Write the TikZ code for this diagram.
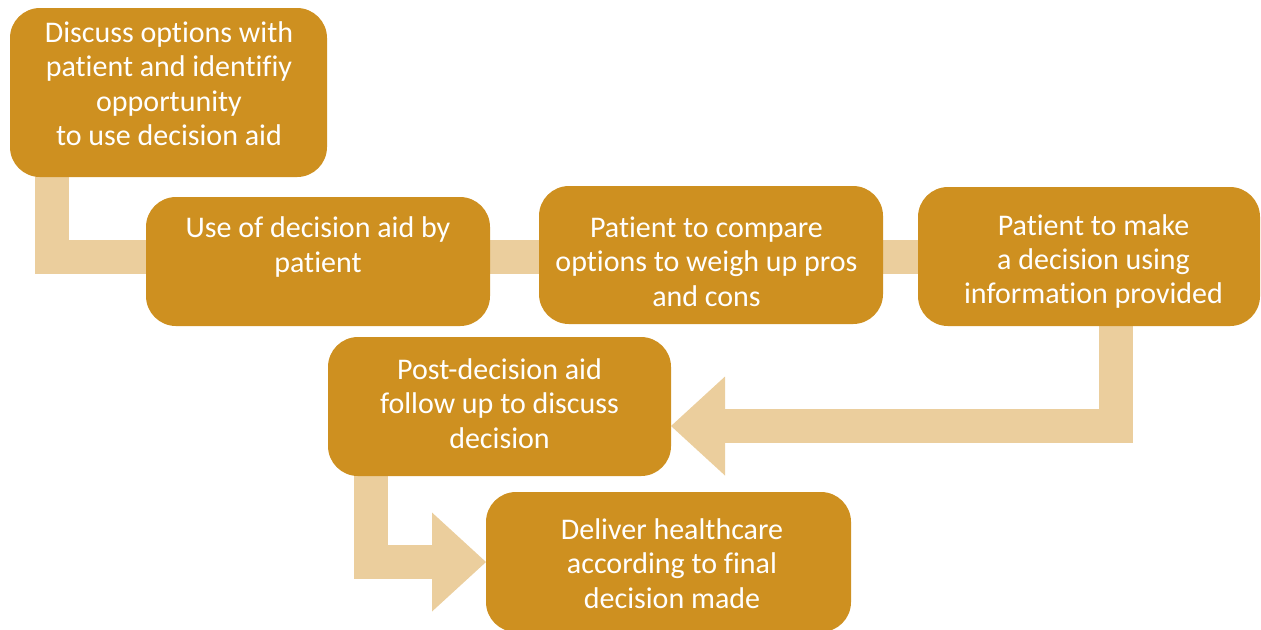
\documentclass[tikz,border=0pt]{standalone}
\usepackage{fontspec}
\setmainfont[Ligatures=NoCommon]{Carlito}
\usetikzlibrary{arrows.meta,fit,backgrounds}
\definecolor{boxc}{HTML}{CE9020}
\definecolor{bandc}{HTML}{EBCE9D}
\begin{document}
\begin{tikzpicture}[x=0.5pt,y=-0.5pt,
  box/.style={fill=boxc, draw=none, rounded corners=15pt, inner sep=0pt, outer sep=0pt},
  txt/.style={text=white, align=center, font=\fontsize{15}{17.15}\selectfont, inner sep=0pt},
  band/.style={draw=bandc, line width=17pt},
  blockarrow/.style={band, -{Triangle[length=27pt, width=49.5pt, line width=0pt]}}]
\useasboundingbox (0,0) rectangle (1261,629);
% boxes
\node[box, fit={(10,8) (327,177)}] (b1) {};
\node[box, fit={(146,197) (490,326)}] (b2) {};
\node[box, fit={(539,186) (883,324)}] (b3) {};
\node[box, fit={(918,187) (1260,326)}] (b4) {};
\node[box, fit={(328,337) (671,476)}] (b5) {};
\node[box, fit={(486,492) (851,632)}] (b6) {};
% texts
\node[txt] (t1) at (169,87) {\strut Discuss options with\\patient and identifiy\\opportunity\\to use decision aid\strut};
\node[txt] (t2) at (318,248) {\strut Use of decision aid by\\patient\strut};
\node[txt] (t3) at (706.5,265) {\strut Patient to compare\\options to weigh up pros\\and cons\strut};
\node[txt] (t4) at (1093.5,262.5) {\strut Patient to make\\a decision using\\information provided\strut};
\node[txt] (t5) at (499.5,407) {\strut Post-decision aid\\follow up to discuss\\decision\strut};
\node[txt] (t6) at (672,567) {\strut Deliver healthcare\\according to final\\decision made\strut};
% guide coordinates
\coordinate (k1) at (52,0);
\coordinate (k2) at (1116,0);
\coordinate (k3) at (370.5,0);
\coordinate (r1) at (0,256.5);
\coordinate (r2) at (0,426);
\coordinate (r3) at (0,562);
% connectors
\begin{scope}[on background layer]
\draw[band] (k1 |- b1.center) |- (b2.center |- r1);
\draw[band] (b2.center |- r1) -- (b3.center |- r1);
\draw[band] (b3.center |- r1) -- (b4.center |- r1);
\draw[blockarrow] (k2 |- b4.center) |- (b5.east |- r2);
\draw[blockarrow] (k3 |- b5.center) |- (b6.west |- r3);
\end{scope}
\end{tikzpicture}
\end{document}
